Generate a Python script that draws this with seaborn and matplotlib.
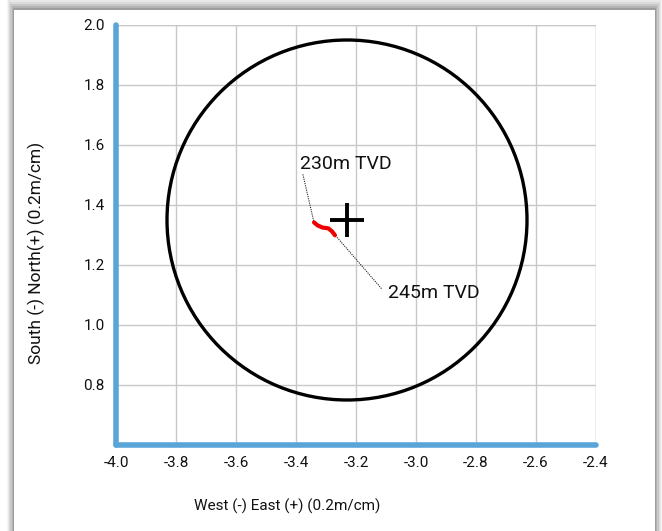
import numpy as np
import pandas as pd
import seaborn as sns
import matplotlib.pyplot as plt
from matplotlib.patches import Circle, Rectangle

# ================================
# Data
# ================================
circle_center = (-3.23, 1.35)
circle_radius = 0.6

path_east = [-3.340, -3.328, -3.312, -3.292, -3.280, -3.270]
path_north = [1.342, 1.332, 1.325, 1.322, 1.312, 1.299]

x_ticks = [-4.0, -3.8, -3.6, -3.4, -3.2, -3.0, -2.8, -2.6, -2.4]
y_ticks = [0.6, 0.8, 1.0, 1.2, 1.4, 1.6, 1.8, 2.0]
y_tick_labels = ["", "0.8", "1.0", "1.2", "1.4", "1.6", "1.8", "2.0"]

labels = ["230m TVD", "245m TVD"]
label_pos = [(-3.387, 1.535), (-3.093, 1.106)]
leader_start = [(-3.377, 1.502), (-3.263, 1.292)]
leader_end = [(-3.340, 1.342), (-3.113, 1.119)]

sns.set_style("white")
plt.rcParams['font.family'] = ['Roboto', 'DejaVu Sans']
narrow = ['Liberation Sans Narrow', 'DejaVu Sans Condensed', 'Roboto']

fig = plt.figure(figsize=(6.62, 5.31), dpi=100)
fig.patch.set_facecolor("white")

# card with soft shadow
W, H = 662, 531
for i, a in enumerate([0.04, 0.05, 0.06, 0.08, 0.10, 0.12]):
    off = 12 - 2 * i
    fig.patches.append(Rectangle(((14 - off * 0.6) / W, -0.1), (641 + off * 1.2) / W,
                                 (531 - 10 + off) / H + 0.1, transform=fig.transFigure,
                                 facecolor="black", alpha=a, edgecolor="none", zorder=0))
fig.patches.append(Rectangle((14 / W, -0.1), 641 / W, (531 - 10) / H + 0.1,
                             transform=fig.transFigure, facecolor="white",
                             edgecolor="none", zorder=1))

ax = fig.add_axes([116 / W, 1 - 445 / H, 480 / W, 420 / H])
ax.set_facecolor("none")
ax.set_zorder(2)

df = pd.DataFrame({"east": path_east, "north": path_north})
sns.lineplot(data=df, x="east", y="north", sort=False, color="#ee0000",
             linewidth=3, ax=ax, zorder=5)

ax.add_patch(Circle(circle_center, circle_radius, fill=False, edgecolor="black",
                    linewidth=2.4, zorder=4))
ax.plot([circle_center[0]], [circle_center[1]], marker="+", markersize=24,
        markeredgewidth=2.8, color="black", zorder=6)

for txt, pos, p0, p1 in zip(labels, label_pos, leader_start, leader_end):
    ax.plot([p0[0], p1[0]], [p0[1], p1[1]], linestyle=(0, (1, 1)), color="#222222",
            linewidth=0.8, zorder=3)
    ax.text(pos[0], pos[1], txt, fontsize=14, va="center", ha="left",
            color="#111111", zorder=7)

ax.set_xlim(-4.0, -2.4)
ax.set_ylim(0.6, 2.0)
ax.set_xticks(x_ticks)
ax.set_yticks(y_ticks)
ax.set_xticklabels([f"{v:.1f}" for v in x_ticks])
ax.set_yticklabels(y_tick_labels)
for lab in ax.get_xticklabels() + ax.get_yticklabels():
    lab.set_family(narrow)
    lab.set_fontsize(11)
    lab.set_color("#111111")
ax.tick_params(length=0, pad=8)

ax.grid(True, color="#c8c8c8", linewidth=1)
ax.set_axisbelow(True)
for s in ["top", "right"]:
    ax.spines[s].set_visible(False)
for s in ["left", "bottom"]:
    ax.spines[s].set_color("#5aa5d8")
    ax.spines[s].set_linewidth(4)
    ax.spines[s].set_capstyle("round")
# gridlines on the closing top/right edges
ax.axhline(2.0, color="#c8c8c8", linewidth=1, zorder=1)
ax.axvline(-2.4, color="#c8c8c8", linewidth=1, zorder=1)

ax.set_xlabel("West (-) East (+) (0.2m/cm)", fontsize=11, color="#111111")
ax.set_ylabel("South (-) North(+) (0.2m/cm)", fontsize=12.5, color="#111111")
ax.xaxis.set_label_coords(0.356, -0.128)
ax.yaxis.set_label_coords(-0.148, 0.457)

fig.savefig("out.png", dpi=100)
